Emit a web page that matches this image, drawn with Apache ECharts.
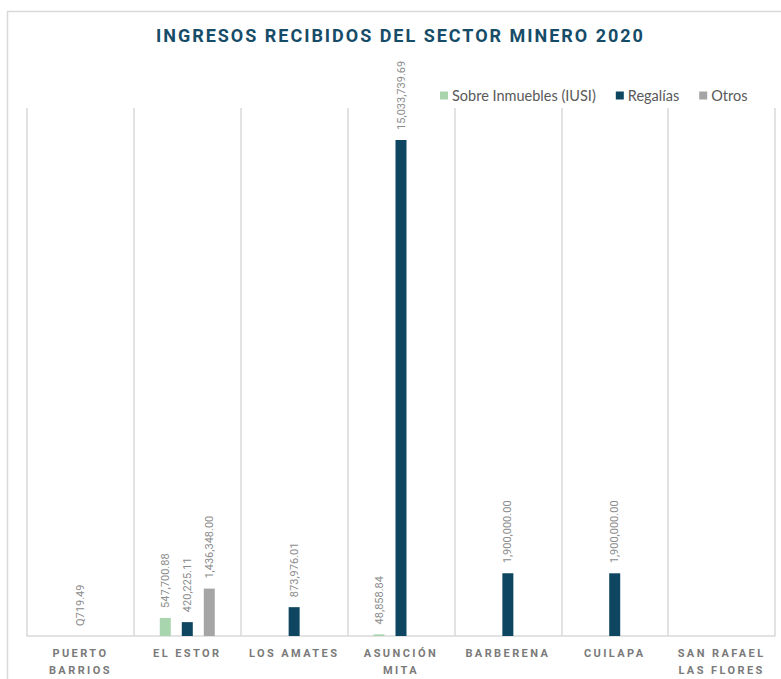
<!DOCTYPE html>
<html>
<head>
<meta charset="utf-8">
<script src="https://cdn.jsdelivr.net/npm/echarts@6/dist/echarts.min.js"></script>
<style>
  html, body { margin: 0; padding: 0; background: #fff; }
  #chart { width: 781px; height: 679px; }
  /* tracked uppercase headings: title and category labels */
  #chart text[style*="bold"] { letter-spacing: 0.11em; }
  #chart text[style*="bold"][style*="11px"] { letter-spacing: 0.22em; }
</style>
</head>
<body>
<div id="chart"></div>
<script>
// Municipios productores
const municipios = [
  'PUERTO\nBARRIOS', 'EL ESTOR', 'LOS AMATES', 'ASUNCIÓN\nMITA',
  'BARBERENA', 'CUILAPA', 'SAN RAFAEL\nLAS FLORES'
];

// Ingresos en quetzales por tipo
const iusi     = [null, 547700.88, null, 48858.84, null, null, null];
const regalias = [719.49, 420225.11, 873976.01, 15033739.69, 1900000.00, 1900000.00, null];
const otros    = [null, 1436348.00, null, null, null, null, null];

const seriesNames = ['Sobre Inmuebles (IUSI)', 'Regalías', 'Otros'];
const colores = ['#a9d5ae', '#0e4560', '#a5a5a5'];

const fmt = v => Number(v).toLocaleString('en-US', { minimumFractionDigits: 2, maximumFractionDigits: 2 });

const labelStyle = {
  show: true,
  position: 'top',
  rotate: 90,
  align: 'left',
  verticalAlign: 'middle',
  distance: 10,
  color: '#8c8c8c',
  fontFamily: 'Roboto',
  fontSize: 11,
  formatter: p => fmt(p.value)
};

function buildSeries(name, values, color) {
  return {
    name: name,
    type: 'bar',
    barWidth: 11,
    barGap: '100%',
    itemStyle: { color: color },
    label: labelStyle,
    data: values.map((v, i) => {
      // Puerto Barrios se reporta con prefijo de moneda
      if (v !== null && i === 0) {
        return { value: v, label: { formatter: p => 'Q' + fmt(p.value) } };
      }
      return v;
    })
  };
}

const chart = echarts.init(document.getElementById('chart'), null, { renderer: 'svg' });
chart.setOption({
  animation: false,
  backgroundColor: '#fff',
  title: {
    text: 'INGRESOS RECIBIDOS DEL SECTOR MINERO 2020',
    left: 151,
    top: 21,
    textStyle: {
      color: '#164c68',
      fontFamily: 'Roboto',
      fontWeight: 'bold',
      fontSize: 18
    }
  },
  legend: {
    left: 435,
    top: 83,
    itemWidth: 8,
    itemHeight: 8,
    itemGap: 20,
    icon: 'rect',
    textStyle: { color: '#595959', fontFamily: 'Lato', fontSize: 14.5, padding: [0, 0, 0, -1] },
    data: seriesNames
  },
  graphic: [{
    type: 'rect',
    shape: { x: 7.5, y: 11.5, width: 820, height: 720 },
    style: { fill: 'none', stroke: '#d9d9d9', lineWidth: 1.5 },
    silent: true,
    z: -1
  }],
  grid: { left: 27, right: 6, top: 108, bottom: 43 },
  xAxis: {
    type: 'category',
    data: municipios,
    axisLine: { show: true, lineStyle: { color: '#d9d9d9', width: 1.5 } },
    axisTick: { show: false },
    splitLine: { show: true, lineStyle: { color: '#d9d9d9', width: 1.5 } },
    axisLabel: {
      interval: 0,
      margin: 9,
      color: '#7a7a7a',
      fontFamily: 'Roboto',
      fontWeight: 'bold',
      fontSize: 11,
      lineHeight: 17
    }
  },
  yAxis: {
    type: 'value',
    min: 0,
    max: 16000000,
    show: false,
    splitLine: { show: false }
  },
  series: [
    buildSeries(seriesNames[0], iusi, colores[0]),
    buildSeries(seriesNames[1], regalias, colores[1]),
    buildSeries(seriesNames[2], otros, colores[2])
  ]
});
</script>
</body>
</html>
